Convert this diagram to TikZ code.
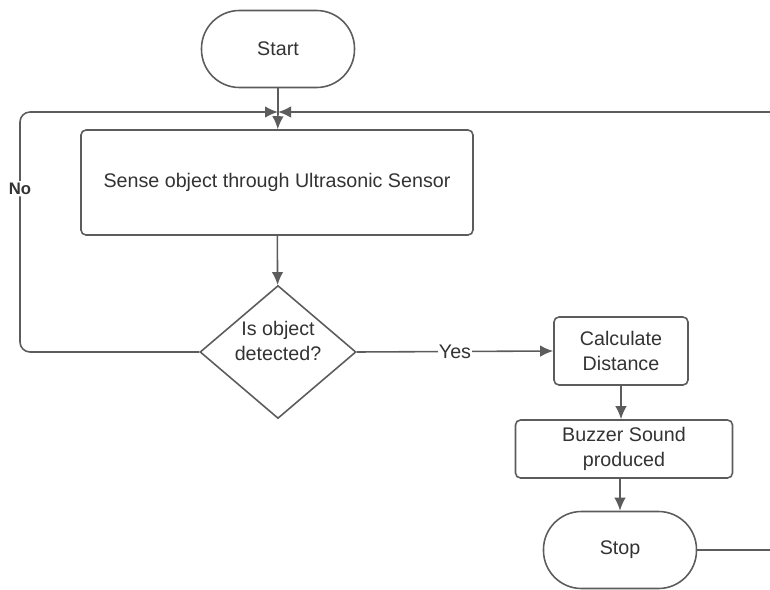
\documentclass[tikz,border=0pt]{standalone}
\usepackage{fontspec}
\setmainfont{Liberation Sans}
\usepackage{tikz}
\usetikzlibrary{arrows.meta, shapes.geometric, positioning}
\definecolor{linegray}{HTML}{5C5C5C}
\definecolor{textgray}{HTML}{333333}
\tikzstyle{terminal} = [rectangle, rounded corners = 7.6mm, draw = linegray, line width = 0.9pt, minimum width = 3.06cm, minimum height = 1.54cm, text = textgray]
\tikzstyle{process} = [rectangle, rounded corners = 1mm, draw = linegray, line width = 0.9pt, align = center, text = textgray]
\tikzstyle{decision} = [diamond, draw = linegray, line width = 0.9pt, minimum width = 3.12cm, minimum height = 2.66cm, aspect = 1.17, inner sep = 0pt]
\tikzstyle{post} = [->, line width = 0.9pt, draw = linegray]
\tikzstyle{line} = [line width = 0.9pt, draw = linegray]
\tikzstyle{tag} = [fill = white, inner sep = 1pt, text = textgray]

\begin{document}
\begin{tikzpicture}[>= {Latex[length = 2.6mm, width = 2.3mm]}, font = \fontsize{11.2}{14}\selectfont]
        \useasboundingbox (0,0) rectangle (15.4,-11.8);
        \clip (0,0) rectangle (15.4,-11.8);
        % draw nodes
        \node[terminal] (start) at (5.56,-0.98) {Start};
        \coordinate (merge) at (5.56,-2.24);
        \node[process, minimum width = 7.84cm, minimum height = 2.1cm] (sense) at (5.54,-3.65) {Sense object through Ultrasonic Sensor};
        \node[decision, label = {[align = center, text = textgray, yshift = 2.2mm]center:Is object\\detected?}] (dec) at (5.56,-7.04) {};
        \node[process, minimum width = 2.68cm, minimum height = 1.36cm] (calc) at (12.42,-7.02) {Calculate\\Distance};
        \node[process, minimum width = 4.34cm, minimum height = 1.16cm] (buzz) at (12.48,-8.98) {Buzzer Sound\\produced};
        \node[terminal] (stop) at (12.40,-11.0) {Stop};
        \coordinate (noturn) at (0.4,-2.24);
        \coordinate (loopback) at (15.9,-2.24);

        % draw arrows and add label on arrows
        \draw[line] (start) -- (merge);
        \draw[post] (merge) -- (sense);
        \draw[post] (sense) -- (dec);
        \draw[post, rounded corners = 2mm] (dec.west) -| (noturn)
            node[tag, pos = 0.84, font = \fontsize{9.5}{11}\selectfont\bfseries] {No}
            -- (merge);
        \draw[post] (dec.east) -- node[tag, inner sep = 0.5pt] {Yes} (calc.west);
        \draw[post] (calc) -- (calc |- buzz.north);
        \draw[post] (buzz.south -| stop) -- (stop);
        \draw[post] (stop.east) -| (loopback) -- (merge);
\end{tikzpicture}
\end{document}
